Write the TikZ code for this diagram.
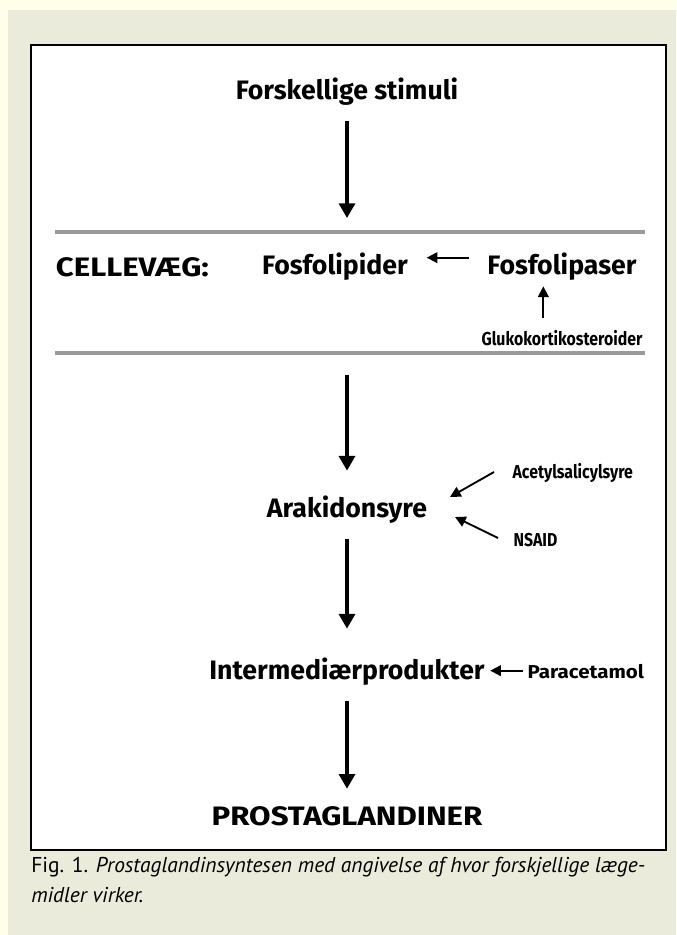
\documentclass[tikz,border=0pt]{standalone}
\usepackage{fontspec}
\setmainfont{PT Sans}
\newfontfamily\diagfont{Fira Sans}
\newfontfamily\capsfont[FakeStretch=1.17]{Fira Sans}
\newfontfamily\narrowfont[FakeStretch=0.85]{Fira Sans}
\newfontfamily\parafont[FakeStretch=1.1]{Fira Sans}
\usetikzlibrary{arrows.meta, positioning}

\definecolor{pagebg}{HTML}{FFFFE9}
\definecolor{panelbg}{HTML}{EBEBDB}
\definecolor{rulegray}{HTML}{9A9A9A}

\begin{document}
\begin{tikzpicture}[x=0.75pt, y=-0.75pt,
    stage/.style={font=\diagfont\bfseries\fontsize{20}{23}\selectfont, inner sep=2pt},
    capsstage/.style={stage, font=\capsfont\bfseries\fontsize{20}{23}\selectfont},
    drug/.style={font=\narrowfont\bfseries\fontsize{14}{16}\selectfont, inner sep=1pt},
    flow/.style={-{Triangle[length=11pt, width=12pt]}, line width=2.4pt},
    block/.style={-{Triangle[length=8pt, width=8pt]}, line width=1.4pt}]

    % Background, panel and frame
    \fill[pagebg]  (0,0)  rectangle (676,935);
    \fill[panelbg] (8,10) rectangle (676,935);
    \draw[fill=white, line width=1.5pt] (31,45) rectangle (666,850);
    \draw[rulegray, line width=2.5pt] (55,232) -- (645,232);
    \draw[rulegray, line width=2.5pt] (55,353) -- (645,353);

    % Add the stages
    \node[stage]                  (stimuli)      at (347,92)  {Forskellige stimuli};
    \node[capsstage, anchor=west] (cellevaeg)    at (53,267)  {CELLEVÆG:};
    \node[stage]                  (fosfolipider) at (335,267) {Fosfolipider};
    \node[stage]                  (fosfolipaser) at (562,267) {Fosfolipaser};
    \node[drug]                   (gluko)        at (562,338) {Glukokortikosteroider};
    \node[stage]                  (arak)         at (347,510) {Arakidonsyre};
    \node[drug, anchor=west]      (asa)          at (511,473) {Acetylsalicylsyre};
    \node[drug, anchor=west]      (nsaid)        at (512,540) {NSAID};
    \node[stage]                  (inter)        at (347,672) {Intermediærprodukter};
    \node[drug, anchor=west, font=\parafont\bfseries\fontsize{14}{16}\selectfont]
                                  (para)         at (526,672) {Paracetamol};
    \node[capsstage]              (prosta)       at (347,816) {PROSTAGLANDINER};

    % Ends at the cell wall
    \coordinate (celltop) at (347,218);
    \coordinate (cellbot) at (347,375);

    % Connect the stages
    \draw[flow, shorten <=9pt]                 (stimuli) -- (celltop);
    \draw[flow, shorten >=17pt]                (cellbot) -- (arak);
    \draw[flow, shorten <=9pt, shorten >=20pt] (arak)    -- (inter);
    \draw[flow, shorten <=9pt, shorten >=11pt] (inter)   -- (prosta);

    % Where the drugs act
    \draw[block, shorten <=12pt, shorten >=12pt]
        ([yshift=7pt]fosfolipaser.west) -- ([yshift=7pt]fosfolipider.east);
    \draw[block, shorten <=8pt, shorten >=2pt]
        ([xshift=-14pt]gluko.north) -- ([xshift=-14pt]fosfolipaser.south);
    \draw[block] ([shift={(-17,-1)}]asa.west)   -- ([shift={(20,-13)}]arak.east);
    \draw[block] ([shift={(-14,-2)}]nsaid.west) -- ([shift={(25,7)}]arak.east);
    \draw[block, shorten <=2pt, shorten >=2pt]
        ([yshift=1pt]para.west) -- ([yshift=1pt]inter.east);

    % Caption
    \node[anchor=north west, inner sep=0pt, align=left,
          font=\fontsize{16.1}{22.5}\selectfont] (caption) at (31,857)
        {Fig. 1. \textit{Prostaglandinsyntesen med angivelse af hvor forskjellige læge-}\\
         \textit{midler virker.}};
\end{tikzpicture}
\end{document}
